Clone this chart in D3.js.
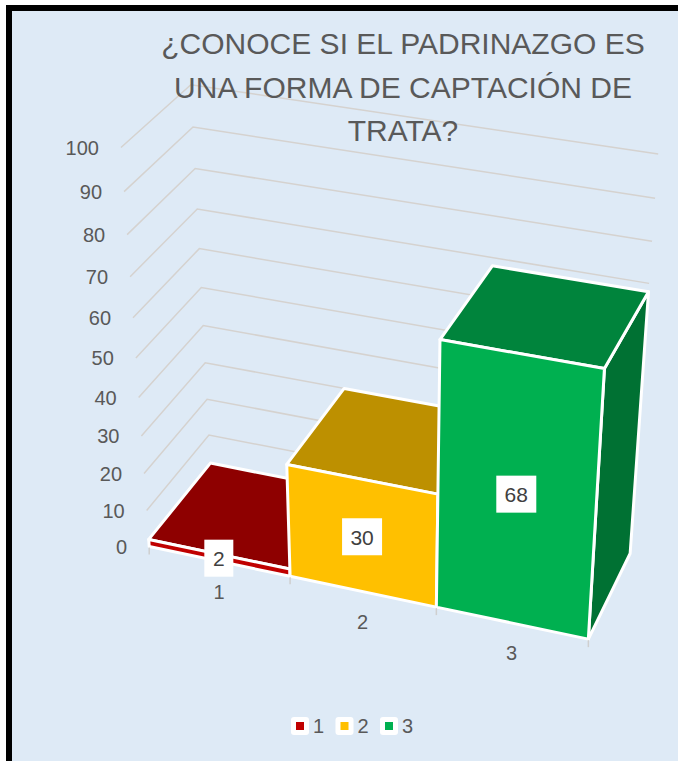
<!DOCTYPE html>
<html>
<head>
<meta charset="utf-8">
<script src="https://cdn.jsdelivr.net/npm/d3@7"></script>
<style>
  body { margin: 0; background: #fff; }
  svg { display: block; }
</style>
</head>
<body>
<svg></svg>
<script>
const width = 678
const height = 761

// chart data
const categories = ["1", "2", "3"]
const values = [2, 30, 68]
const barColors = ["#C00000", "#FFC000", "#00B050"]
const yTicks = [0, 10, 20, 30, 40, 50, 60, 70, 80, 90, 100]
const titleLines = ["¿CONOCE SI EL PADRINAZGO ES", "UNA FORMA DE CAPTACIÓN DE", "TRATA?"]

// perspective calibration: [x (0..1), value (0..100), depth (0..1), screen x, screen y]
const calib = [
  [0, 0, 0, 149, 546], [1/3, 0, 0, 290, 577], [2/3, 0, 0, 437, 606], [1, 0, 0, 589, 639],
  [0, 100, 0, 121, 147], [0, 90, 0, 124, 192], [0, 50, 0, 136, 358],
  [0, 90, 1, 193, 127], [0, 50, 1, 202, 287], [0, 10, 1, 209, 435], [0, 2, 1, 210, 463],
  [1, 100, 1, 658, 154], [1, 90, 1, 655, 198], [1, 70, 1, 649, 283],
  [2/3, 68, 0, 441, 340], [1, 68, 0, 604, 368], [2/3, 68, 1, 492, 266], [1, 68, 1, 649, 292],
  [1/3, 30, 0, 287, 465], [2/3, 30, 0, 436, 495], [1/3, 30, 1, 344, 389]
]

const svg = d3.select("svg")
  .attr("width", width)
  .attr("height", height)

const x = d3.scaleBand().domain(categories).range([0, 1]).paddingInner(0)
const y = d3.scaleLinear().domain([0, 100]).range([0, 1])

// fit a 3x4 projective camera (DLT) to the calibration points
const cx = 340, cy = 380, sc = 300
function fitCamera(pts) {
  const rows = [], rhs = []
  pts.forEach(([X, V, Z, u, v]) => {
    const Y = y(V)
    const U = (u - cx) / sc, W = (v - cy) / sc
    rows.push([X, Y, Z, 1, 0, 0, 0, 0, -U * X, -U * Y, -U * Z]); rhs.push(U)
    rows.push([0, 0, 0, 0, X, Y, Z, 1, -W * X, -W * Y, -W * Z]); rhs.push(W)
  })
  const n = 11
  const M = d3.range(n).map(i => d3.range(n + 1).map(j => {
    let s = 0
    for (let k = 0; k < rows.length; k++) s += rows[k][i] * (j < n ? rows[k][j] : rhs[k])
    return s
  }))
  for (let c = 0; c < n; c++) {
    let piv = c
    for (let r = c + 1; r < n; r++) if (Math.abs(M[r][c]) > Math.abs(M[piv][c])) piv = r
    ;[M[c], M[piv]] = [M[piv], M[c]]
    for (let r = 0; r < n; r++) {
      if (r === c) continue
      const f = M[r][c] / M[c][c]
      for (let k = c; k <= n; k++) M[r][k] -= f * M[c][k]
    }
  }
  return M.map((row, i) => row[n] / row[i])
}
const P = fitCamera(calib)

function project(X, Yn, Z) {
  const w = P[8] * X + P[9] * Yn + P[10] * Z + 1
  const u = (P[0] * X + P[1] * Yn + P[2] * Z + P[3]) / w
  const v = (P[4] * X + P[5] * Yn + P[6] * Z + P[7]) / w
  return [u * sc + cx, v * sc + cy]
}
const poly = pts => "M" + pts.map(p => project(...p).join(",")).join("L") + "Z"

// frame
svg.append("rect")
  .attr("x", 9).attr("y", 8)
  .attr("width", 720).attr("height", 800)
  .attr("fill", "#deeaf6")
  .attr("stroke", "#000")
  .attr("stroke-width", 6)

// walls gridlines
svg.append("g").selectAll("path")
  .data(yTicks)
  .join("path")
  .attr("d", t => {
    const a = project(0, y(t), 0), b = project(0, y(t), 1), c = project(1, y(t), 1)
    return "M" + a + "L" + b + "L" + c
  })
  .attr("fill", "none")
  .attr("stroke", "#d5d2cf")
  .attr("stroke-width", 1.5)

// title (drawn over the gridlines)
svg.append("g").selectAll("text")
  .data(titleLines)
  .join("text")
  .attr("x", 403)
  .attr("y", (d, i) => 54 + i * 43.5)
  .attr("text-anchor", "middle")
  .style("font-family", "Liberation Sans, Arial, sans-serif")
  .style("font-size", "30px")
  .style("fill", "#595959")
  .text(d => d)

// value axis labels
svg.append("g").selectAll("text")
  .data(yTicks)
  .join("text")
  .attr("x", t => project(0, y(t), 0)[0] - 22)
  .attr("y", t => project(0, y(t), 0)[1] + 2)
  .attr("text-anchor", "end")
  .attr("dominant-baseline", "middle")
  .style("font-family", "Liberation Sans, Arial, sans-serif")
  .style("font-size", "20px")
  .style("fill", "#595959")
  .text(t => t)

// bars (left to right so nearer faces cover the previous ones)
const bars = categories.map((c, i) => ({ c, v: values[i], color: barColors[i] }))
const barG = svg.append("g")
bars.forEach(d => {
  const x0 = x(d.c), x1 = x0 + x.bandwidth(), h = y(d.v)
  const base = d3.color(d.color)
  const g = barG.append("g")
    .attr("stroke", "#fff")
    .attr("stroke-width", 3)
    .attr("stroke-linejoin", "round")
  g.append("path")
    .attr("d", poly([[x1, 0, 0], [x1, 0, 1], [x1, h, 1], [x1, h, 0]]))
    .attr("fill", d3.rgb(base.r * 0.64, base.g * 0.64, base.b * 0.64))
  g.append("path")
    .attr("d", poly([[x0, h, 0], [x1, h, 0], [x1, h, 1], [x0, h, 1]]))
    .attr("fill", d3.rgb(base.r * 0.74, base.g * 0.75, base.b * 0.75))
  g.append("path")
    .attr("d", poly([[x0, 0, 0], [x1, 0, 0], [x1, h, 0], [x0, h, 0]]))
    .attr("fill", d.color)
})

// category ticks
svg.append("g").selectAll("line")
  .data([0, 1, 2, 3])
  .join("line")
  .each(function(i) {
    const p = project(i / 3, 0, 0)
    d3.select(this).attr("x1", p[0]).attr("y1", p[1] + 1).attr("x2", p[0]).attr("y2", p[1] + 8)
  })
  .attr("stroke", "#cfcfcf")
  .attr("stroke-width", 1.5)

// category labels
svg.append("g").selectAll("text")
  .data(categories)
  .join("text")
  .attr("x", c => project(x(c) + x.bandwidth() / 2, 0, 0)[0])
  .attr("y", c => project(x(c) + x.bandwidth() / 2, 0, 0)[1] + 32)
  .attr("text-anchor", "middle")
  .attr("dominant-baseline", "middle")
  .style("font-family", "Liberation Sans, Arial, sans-serif")
  .style("font-size", "20px")
  .style("fill", "#595959")
  .text(c => c)

// data labels
const lab = svg.append("g").selectAll("g")
  .data(bars)
  .join("g")
  .attr("transform", d => {
    const p = project(x(d.c) + x.bandwidth() / 2, y(d.v) / 2, 0)
    return `translate(${p[0]},${p[1]})`
  })
lab.append("rect")
  .attr("x", d => -(String(d.v).length * 11 + 18) / 2)
  .attr("y", -18)
  .attr("width", d => String(d.v).length * 11 + 18)
  .attr("height", 37)
  .attr("fill", "#fff")
lab.append("text")
  .attr("text-anchor", "middle")
  .attr("dominant-baseline", "central")
  .attr("y", 1)
  .style("font-family", "Liberation Sans, Arial, sans-serif")
  .style("font-size", "21px")
  .style("fill", "#404040")
  .text(d => d.v)

// legend
const legend = svg.append("g")
  .selectAll("g")
  .data(bars)
  .join("g")
  .attr("transform", (d, i) => `translate(${291 + i * 44.5},717)`)
legend.append("rect")
  .attr("width", 18).attr("height", 18).attr("rx", 3)
  .attr("fill", "#fff")
legend.append("rect")
  .attr("x", 5).attr("y", 5).attr("width", 8).attr("height", 8)
  .attr("fill", d => d.color)
legend.append("text")
  .attr("x", 22).attr("y", 9)
  .attr("dominant-baseline", "central")
  .style("font-family", "Liberation Sans, Arial, sans-serif")
  .style("font-size", "20px")
  .style("fill", "#595959")
  .text(d => d.c)
</script>
</body>
</html>
